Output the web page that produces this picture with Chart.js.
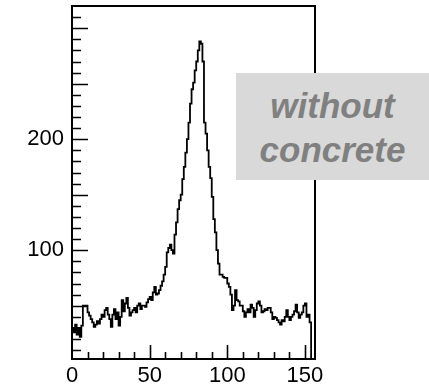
<!DOCTYPE html>
<html>
<head>
<meta charset="utf-8">
<script src="https://cdn.jsdelivr.net/npm/chart.js@4"></script>
<style>
    body { margin: 0; background: #fff; }
    #wrap { position: relative; width: 429px; height: 390px; }
    #note {
        position: absolute; left: 236px; top: 73px; width: 193px; height: 107px;
        background: #d9d9d9; color: #808080; text-align: center;
        font: italic bold 35px "Liberation Sans", Arial, sans-serif;
        line-height: 44px; padding-top: 11px; box-sizing: border-box;
    }
</style>
</head>
<body>
<div id="wrap">
    <canvas id="spectrum" width="429" height="390"></canvas>
    <div id="note">without<br>concrete</div>
</div>
<script>
// counts per channel (bin width 1, starting at 0)
const counts = [
    30, 26, 33, 24, 30, 22, 32, 50, 50, 50,
    44, 41, 38, 35, 31, 33, 36, 34, 38, 42,
    40, 46, 48, 42, 38, 31, 42, 47, 38, 44,
    32, 40, 55, 45, 52, 57, 48, 41, 44, 46,
    48, 44, 50, 52, 47, 50, 50, 49, 53, 56,
    58, 55, 62, 67, 60, 61, 64, 68, 72, 78,
    85, 98, 102, 105, 100, 97, 114, 125, 137, 145,
    150, 164, 175, 188, 200, 215, 232, 245, 251, 262,
    270, 280, 288, 286, 270, 215, 205, 190, 175, 165,
    148, 128, 116, 100, 88, 78, 78, 76, 75, 75,
    70, 67, 60, 46, 50, 64, 55, 54, 50, 50,
    45, 40, 44, 47, 44, 51, 48, 40, 46, 52,
    54, 50, 44, 45, 47, 46, 48, 48, 44, 38,
    40, 39, 37, 35, 33, 37, 36, 40, 46, 40,
    37, 40, 42, 45, 51, 44, 39, 42, 44, 50,
    52, 40, 42, 35, 2
];
const binWidth = 1;
const binStarts = counts.map((_, i) => i * binWidth);

const xLabels = [0, 50, 100, 150];
const yLabels = [100, 200];
const xRange = [0, 156.5];
const yRange = [2, 320];

// histogram outline: left edge of every bin, plus the closing edge
const points = binStarts.map((x, i) => ({ x: x, y: counts[i] }));
points.push({ x: xRange[1], y: counts[counts.length - 1] });

const labelFont = { family: "'Liberation Sans', Arial, sans-serif", size: 22 };

// box around the plot and inward tick marks (minor every 10, major every 50)
const frameTicks = {
    id: 'frameTicks',
    afterDraw(chart) {
        const { ctx, chartArea: a, scales: { x, y } } = chart;
        ctx.save();
        ctx.strokeStyle = '#000';
        ctx.lineWidth = 2;
        ctx.strokeRect(a.left, a.top, a.right - a.left, a.bottom - a.top);
        ctx.lineWidth = 1.6;
        ctx.beginPath();
        for (let v = 10; v < xRange[1]; v += 10) {
            const px = Math.round(x.getPixelForValue(v)) + 0.5;
            const len = v % 50 === 0 ? 14 : 7;
            ctx.moveTo(px, a.bottom);
            ctx.lineTo(px, a.bottom - len);
        }
        for (let v = 10; v < yRange[1]; v += 10) {
            const py = Math.round(y.getPixelForValue(v)) + 0.5;
            const len = v % 50 === 0 ? 16 : 9;
            ctx.moveTo(a.left, py);
            ctx.lineTo(a.left + len, py);
        }
        ctx.stroke();
        ctx.restore();
    }
};

new Chart(document.getElementById('spectrum'), {
    type: 'line',
    data: {
        datasets: [{
            data: points,
            stepped: 'before',
            borderColor: '#000',
            borderWidth: 1.8,
            pointRadius: 0,
            fill: false
        }]
    },
    options: {
        responsive: false,
        animation: false,
        layout: { padding: { top: 6, right: 114, left: 0, bottom: 0 } },
        plugins: { legend: { display: false }, tooltip: { enabled: false } },
        scales: {
            x: {
                type: 'linear',
                min: xRange[0],
                max: xRange[1],
                afterFit: s => { s.height = 31; s.paddingLeft = 0; s.paddingRight = 0; },
                afterBuildTicks: s => { s.ticks = xLabels.map(v => ({ value: v })); },
                grid: { display: false, drawTicks: false },
                border: { display: false },
                ticks: { font: labelFont, color: '#000', padding: 4, maxRotation: 0, autoSkip: false }
            },
            y: {
                min: yRange[0],
                max: yRange[1],
                afterFit: s => { s.width = 72; s.paddingTop = 0; s.paddingBottom = 0; },
                afterBuildTicks: s => { s.ticks = yLabels.map(v => ({ value: v })); },
                grid: { display: false, drawTicks: false },
                border: { display: false },
                ticks: { font: labelFont, color: '#000', padding: 8 }
            }
        }
    },
    plugins: [frameTicks]
});
</script>
</body>
</html>
